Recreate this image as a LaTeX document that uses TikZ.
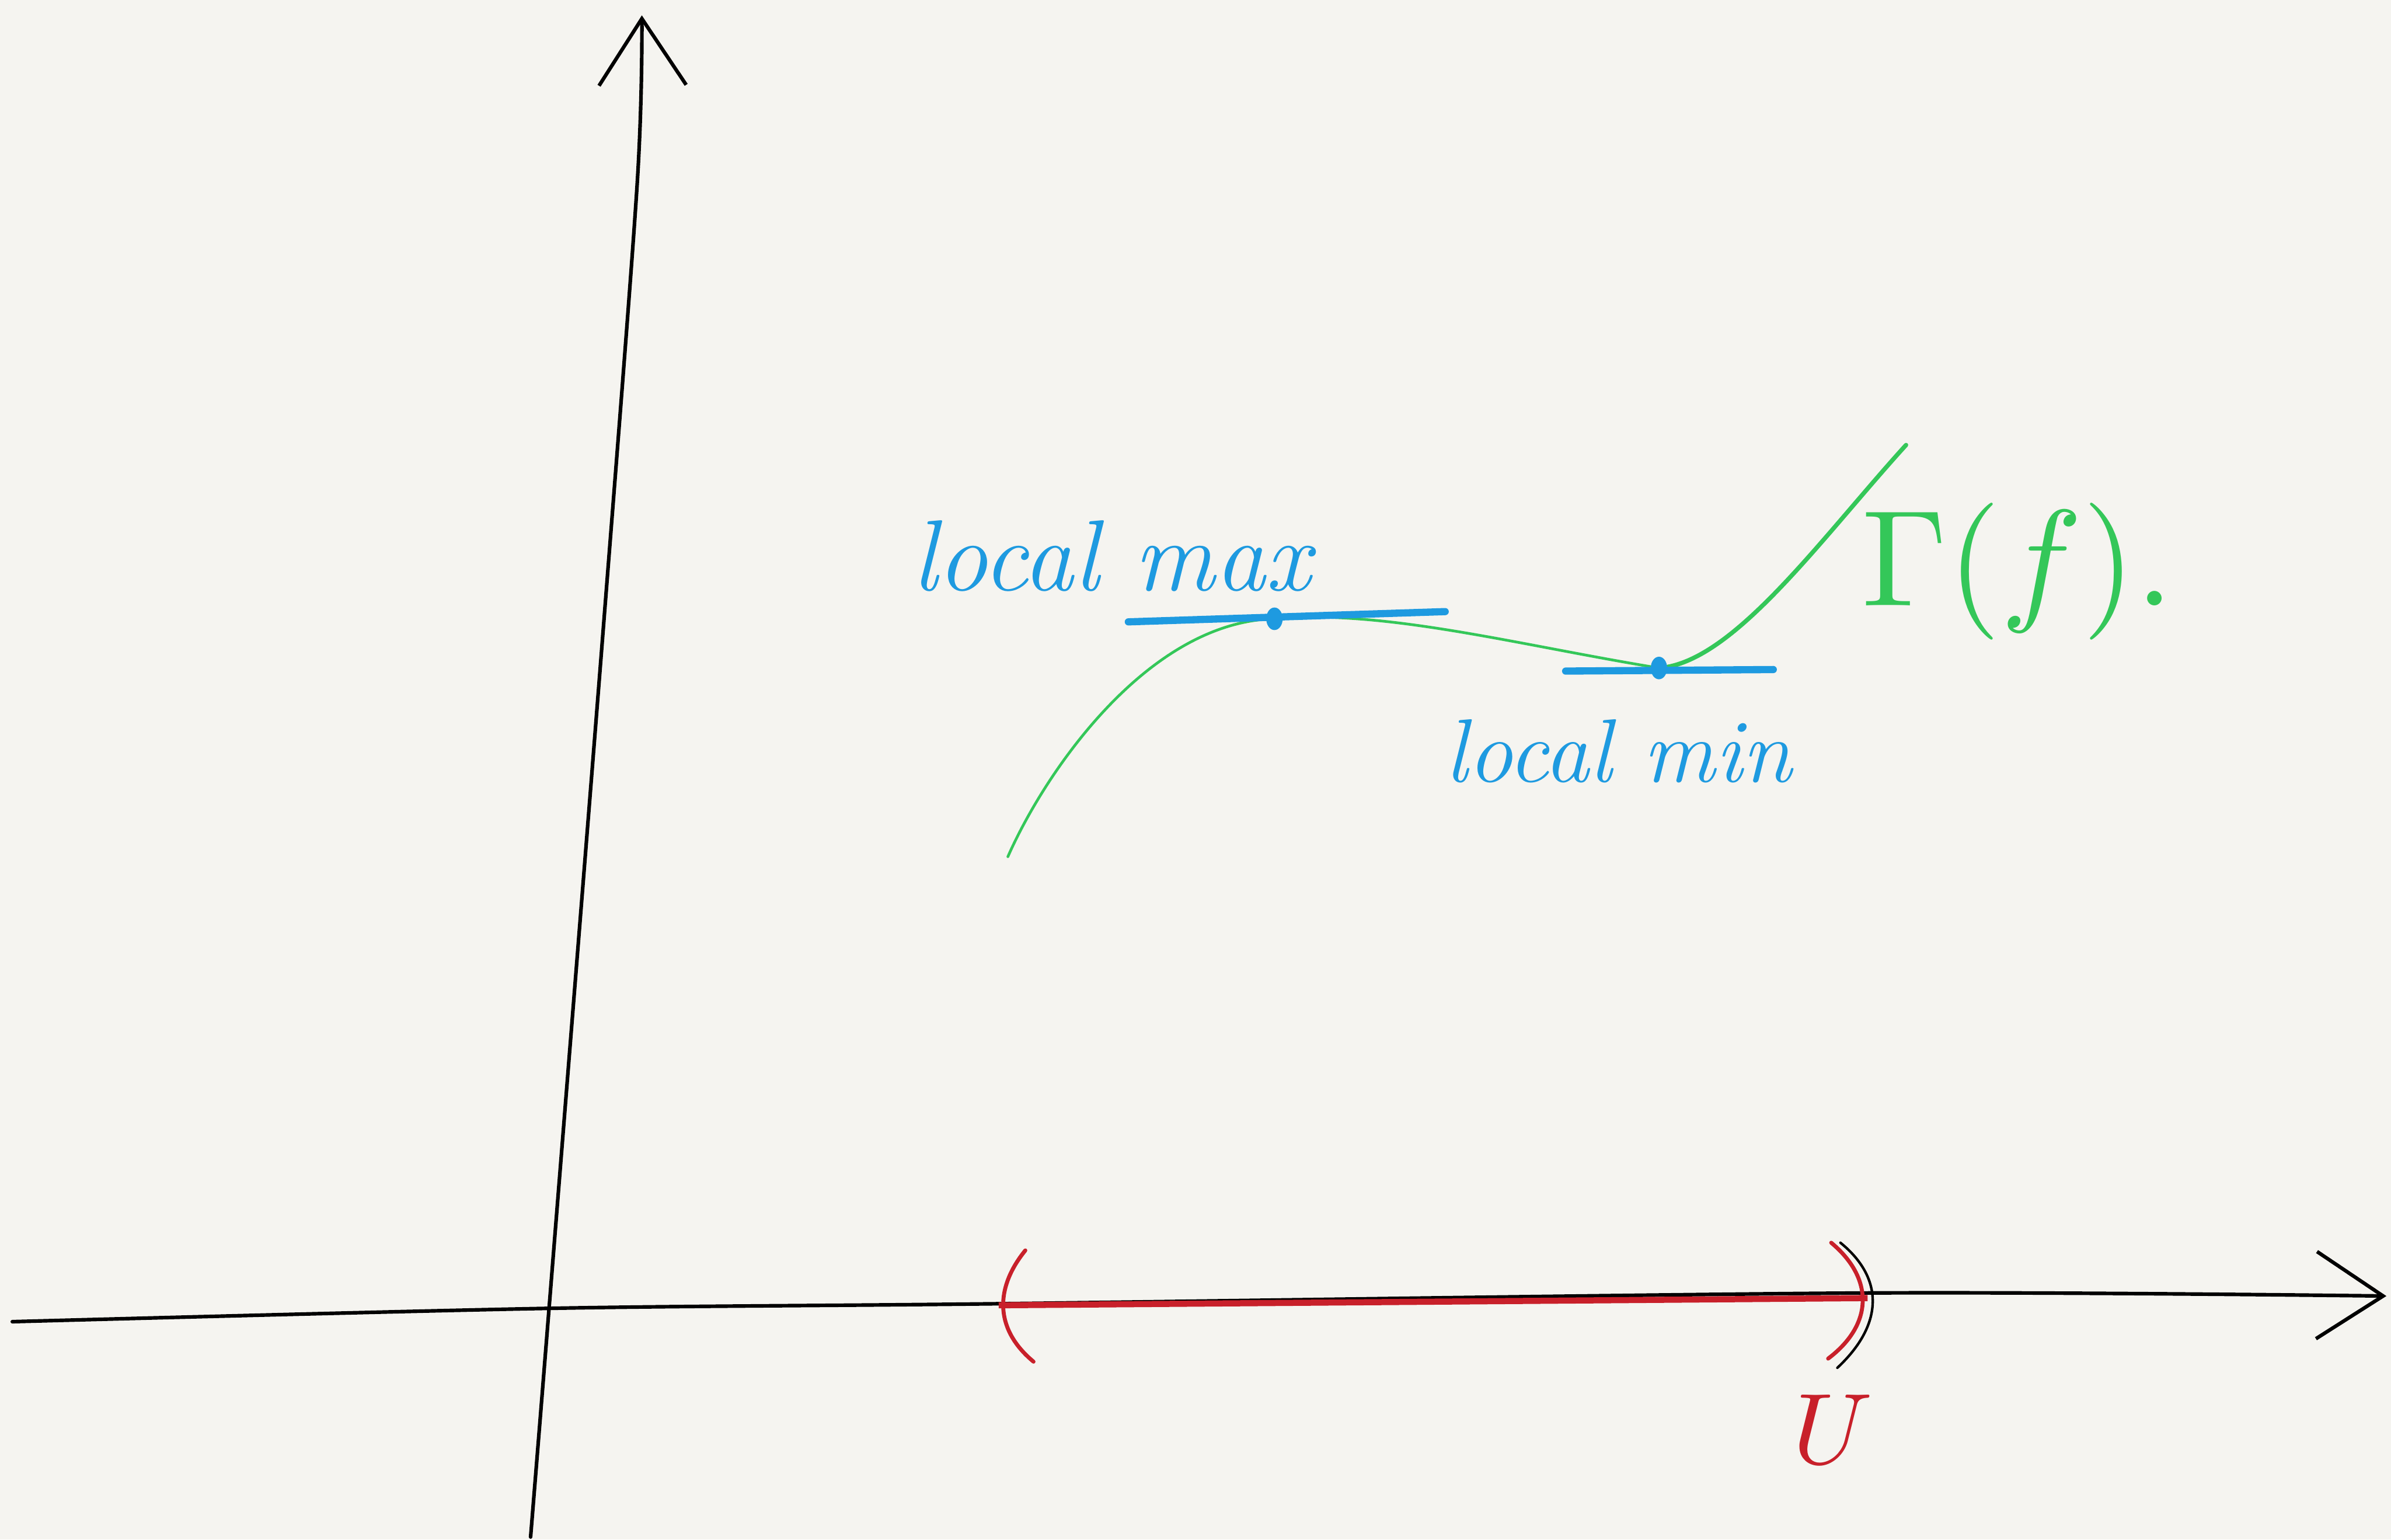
\documentclass[tikz,border=0pt]{standalone}
\usepackage{fontspec}
\usepackage{tikz}
\usetikzlibrary{arrows.meta,positioning,shapes.geometric}
\definecolor{paper}{HTML}{F5F4F0}
\definecolor{penblue}{HTML}{1E9AE0}
\definecolor{pengreen}{HTML}{34C759}
\definecolor{penred}{HTML}{C8202A}

\begin{document}
\begin{tikzpicture}[>={Straight Barb[length=13mm,width=17mm]},
  ax/.style={->,line width=2pt,line cap=round},
  crv/.style={pengreen,line width=1.5pt,line cap=round},
  tang/.style={penblue,line width=4pt,line cap=round},
  crit/.style={ellipse,fill=penblue,inner sep=0pt,minimum width=3.2mm,minimum height=4.4mm},
  hand/.style={penblue,font=\fontsize{56}{60}\selectfont\itshape},
  brk/.style={penred,line width=2.2pt,line cap=round}]
\fill[paper] (0,0) rectangle (46.64,30.03);
\useasboundingbox (0,0) rectangle (46.64,30.03);
% axes
\draw[ax] plot[smooth] coordinates {(0.24,4.25) (10.71,4.51) (19.48,4.60) (36.43,4.81) (46.55,4.75)};
\draw[ax] plot[smooth] coordinates {(10.35,0.05) (10.71,4.51) (11.75,17.54) (12.43,26.46) (12.52,29.73)};
% the open set U
\coordinate (ul) at (19.48,4.57); \coordinate (ur) at (36.43,4.71);
\draw[penred,line width=3.4pt] (ul) -- (ur);
\draw[brk] (20.00,5.64) .. controls (19.40,4.90) and (19.40,4.10) .. (20.16,3.47);
\draw[brk] (35.72,5.79) .. controls (36.55,5.10) and (36.55,4.20) .. (35.66,3.53);
\draw[line width=1.4pt,line cap=round] (35.90,5.79) .. controls (36.75,5.10) and (36.75,4.20) .. (35.84,3.35);
\node[penred,scale=5.6] (uset) at (35.75,2.15) {$U$};
% graph of f
\coordinate (gs) at (19.66,13.32); \coordinate (ge) at (37.18,21.35);
\coordinate (mx) at (24.86,17.96); \coordinate (mn) at (32.36,17.00);
\draw[crv] (gs) .. controls (20.40,15.00) and (22.40,17.90) .. (mx)
  .. controls (27.00,18.15) and (29.60,17.45) .. (mn);
\draw[crv,line width=2.4pt] (mn) .. controls (33.80,17.10) and (35.50,19.50) .. (ge);
\node[pengreen,scale=7.6] (graph) at (39.36,18.88) {$\Gamma(f).$};
% critical points with horizontal tangents
\coordinate (mxl) at (22.01,17.90); \coordinate (mxr) at (28.19,18.10);
\coordinate (mnl) at (30.54,16.94); \coordinate (mnr) at (34.59,16.97);
\draw[tang] (mxl) -- (mxr);
\draw[tang] (mnl) -- (mnr);
\node[crit] (mxdot) at (mx) {};
\node[crit] (mndot) at (mn) {};
\node[hand] (lmax) at (21.68,19.19) {local max};
\node[hand,font=\fontsize{50}{54}\selectfont\itshape] (lmin) at (31.57,15.38) {local min};
\end{tikzpicture}
\end{document}
